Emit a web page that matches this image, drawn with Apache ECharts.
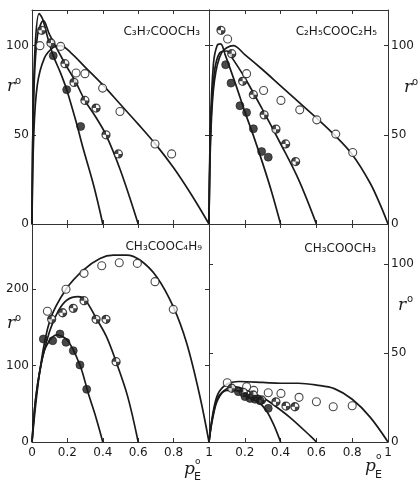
<!DOCTYPE html>
<html><head><meta charset="utf-8">
<script src="https://cdn.jsdelivr.net/npm/echarts@6/dist/echarts.min.js"></script>
<style>html,body{margin:0;padding:0;background:#fff}#c{width:420px;height:483px}</style>
</head><body><div id="c"></div>
<script>
// ---------- Data (p°E, r°) ----------
// Top-left: C3H7COOCH3
const tlOpen   = [[0.045,100],[0.162,99.6],[0.249,84.7],[0.299,84.3],[0.399,76.2],[0.497,63.1],[0.695,44.9],[0.789,39.3]];
const tlHalf   = [[0.055,108.6],[0.107,101.5],[0.186,89.9],[0.237,79.4],[0.299,69.3],[0.362,65],[0.418,50],[0.488,39.3]];
const tlFilled = [[0.12,94.4],[0.196,75.3],[0.275,54.7]];
const tlCurve04 = [[0,0],[0.006,60],[0.018,100],[0.04,118],[0.06,115],[0.09,104],[0.12,94.4],[0.16,85],[0.196,75.3],[0.25,57],[0.29,42],[0.35,21],[0.4,0]];
const tlCurve06 = [[0,0],[0.008,65],[0.03,105],[0.065,114],[0.1,106],[0.186,90],[0.25,79],[0.3,69],[0.36,60],[0.418,50],[0.5,30],[0.6,0]];
const tlCurve10 = [[0,0],[0.01,50],[0.03,78],[0.07,93],[0.12,99],[0.16,100],[0.22,96],[0.3,88],[0.4,78],[0.5,67],[0.6,56],[0.7,44.5],[0.8,31.5],[0.9,16.5],[1,0]];
// Top-right: C2H5COOC2H5
const trOpen   = [[0.104,103.7],[0.21,84.3],[0.305,74.9],[0.402,69.3],[0.507,64],[0.602,58.4],[0.708,50.4],[0.803,40.1]];
const trHalf   = [[0.067,108.6],[0.127,95.5],[0.188,80],[0.248,72.5],[0.308,61.2],[0.374,53.2],[0.428,44.9],[0.484,35]];
const trFilled = [[0.093,89.3],[0.123,79],[0.173,66.3],[0.21,62.5],[0.248,53.4],[0.294,40.6],[0.331,37.5]];
const trCurve04 = [[0,0],[0.008,55],[0.025,90],[0.045,100],[0.065,101],[0.09,95],[0.15,78],[0.2,63],[0.25,49],[0.3,34],[0.35,18],[0.4,0]];
const trCurve06 = [[0,0],[0.01,55],[0.03,85],[0.06,96],[0.1,97],[0.13,93],[0.2,82],[0.3,64],[0.4,45],[0.5,25],[0.6,0]];
const trCurve10 = [[0,0],[0.01,50],[0.03,80],[0.07,96],[0.136,100],[0.2,95],[0.3,86.5],[0.4,77.5],[0.5,68.5],[0.6,59.5],[0.7,50],[0.8,39],[0.9,23],[0.96,10],[1,0]];
// Bottom-left: CH3COOC4H9
const blOpen   = [[0.087,171],[0.192,199.6],[0.294,220.5],[0.394,230.5],[0.493,234.4],[0.595,233.5],[0.695,209.6],[0.798,173.4]];
const blHalf   = [[0.111,160.4],[0.173,169],[0.233,174.7],[0.294,184.7],[0.362,160.4],[0.418,160.4],[0.475,105]];
const blFilled = [[0.064,134.6],[0.117,132.4],[0.158,141.2],[0.192,130.3],[0.233,119.4],[0.271,100.7],[0.309,68.9]];
const blCurve04 = [[0,0],[0.02,55],[0.05,100],[0.08,125],[0.14,140],[0.2,133],[0.27,101],[0.32,62],[0.36,33],[0.4,0]];
const blCurve06 = [[0,0],[0.02,55],[0.05,100],[0.1,145],[0.15,172],[0.2,186],[0.26,190],[0.3,186],[0.362,162],[0.42,138],[0.475,105],[0.54,60],[0.6,0]];
const blCurve10 = [[0,0],[0.045,94],[0.102,159.5],[0.196,200.9],[0.29,224.8],[0.384,240],[0.46,244.4],[0.535,244.4],[0.61,237.9],[0.704,216.1],[0.798,176.9],[0.874,129],[0.949,59.2],[1,0]];
// Bottom-right: CH3COOCH3
const brOpen   = [[0.102,33.3],[0.21,31.1],[0.25,29],[0.331,27.7],[0.402,27.3],[0.503,25.1],[0.6,22.6],[0.694,19.8],[0.8,20.4]];
const brHalf   = [[0.127,30.2],[0.192,27.9],[0.248,26.4],[0.294,23.6],[0.374,22.6],[0.43,20.2],[0.48,19.8]];
const brFilled = [[0.164,28.3],[0.201,25.5],[0.229,24.5],[0.257,24],[0.285,23.2],[0.331,18.9]];
const brCurve04 = [[0,0],[0.02,13],[0.05,24],[0.1,29],[0.15,29],[0.2,26],[0.272,22.6],[0.318,18],[0.36,10],[0.4,0]];
const brCurve06 = [[0,0],[0.02,14],[0.05,25],[0.1,30],[0.15,31],[0.2,29.5],[0.3,25],[0.337,22.6],[0.45,14],[0.57,3],[0.6,0]];
const brCurve10 = [[0,0],[0.02,15],[0.05,27],[0.1,32.5],[0.17,34],[0.3,33.5],[0.4,33],[0.5,33],[0.6,32],[0.7,30],[0.8,24],[0.9,14],[1,0]];

const xTickLabels = ['0','0.2','0.4','0.6','0.8','1'];
const yMaxes = [120, 120, 285, 122.5];
const yIntervals = [50, 50, 100, 50];
const formulas = ['C₃H₇COOCH₃','C₂H₅COOC₂H₅','CH₃COOC₄H₉','CH₃COOCH₃'];

// ---------- Layout ----------
const grids = [
  {left:32, top:10, width:177, height:214},
  {left:209, top:10, width:179, height:214},
  {left:32, top:224, width:177, height:218},
  {left:209, top:224, width:179, height:218}
];
const INK = '#1a1a1a';
const FONT = 'DejaVu Sans';
const lineCol = '#333';

function xAx(g, pos, showLabels, hideMin){
  return {type:'value', gridIndex:g, position:pos, min:0, max:1, interval:0.2,
    axisLine:{show:true, onZero:false, lineStyle:{color:lineCol, width:1}},
    axisTick:{show:true, inside:true, length:4, lineStyle:{color:lineCol}},
    splitLine:{show:false},
    axisLabel:{show:showLabels, margin:5, color:INK, fontFamily:FONT, fontSize:12,
      showMinLabel: !hideMin, formatter:v=>xTickLabels[Math.round(v*5)]}
  };
}
function yAx(g, pos, showLabels){
  return {type:'value', gridIndex:g, position:pos, min:0, max:yMaxes[g], interval:yIntervals[g],
    axisLine:{show:true, onZero:false, lineStyle:{color:lineCol, width:1}},
    axisTick:{show:true, inside:true, length:4, lineStyle:{color:lineCol}},
    splitLine:{show:false},
    axisLabel:{show:showLabels, margin:3, color:INK, fontFamily:FONT, fontSize:12, showMaxLabel:false}
  };
}
const xAxis = [
  xAx(0,'bottom',false), xAx(0,'top',false),
  xAx(1,'bottom',false), xAx(1,'top',false),
  xAx(2,'bottom',true), xAx(2,'top',false),
  xAx(3,'bottom',true,true), xAx(3,'top',false)
];
const yAxis = [
  yAx(0,'left',true), yAx(0,'right',false),
  yAx(1,'left',false), yAx(1,'right',true),
  yAx(2,'left',true), yAx(2,'right',false),
  yAx(3,'left',false), yAx(3,'right',true)
];

// two opposite dark quadrants drawn over an open circle
const quadrantPath = 'path://M10 10 L10 0 A10 10 0 0 0 0 10 Z M10 10 L10 20 A10 10 0 0 0 20 10 Z';
const MS = 8;

const panels = [
  {curves:[tlCurve04,tlCurve06,tlCurve10], open:tlOpen, half:tlHalf, filled:tlFilled},
  {curves:[trCurve04,trCurve06,trCurve10], open:trOpen, half:trHalf, filled:trFilled},
  {curves:[blCurve04,blCurve06,blCurve10], open:blOpen, half:blHalf, filled:blFilled},
  {curves:[brCurve04,brCurve06,brCurve10], open:brOpen, half:brHalf, filled:brFilled}
];
const series = [];
panels.forEach((p,g)=>{
  p.curves.forEach(c=>series.push({type:'line', xAxisIndex:2*g, yAxisIndex:2*g, data:c, smooth:0.35,
    showSymbol:false, symbol:'none', silent:true, lineStyle:{color:INK, width:1.7}, z:2}));
  series.push({type:'scatter', xAxisIndex:2*g, yAxisIndex:2*g, data:p.open, symbol:'circle', symbolSize:MS,
    itemStyle:{color:'#fff', borderColor:INK, borderWidth:1.1}, z:3});
  series.push({type:'scatter', xAxisIndex:2*g, yAxisIndex:2*g, data:p.half, symbol:'circle', symbolSize:MS,
    itemStyle:{color:'#fff', borderColor:INK, borderWidth:1.3}, z:3});
  series.push({type:'scatter', xAxisIndex:2*g, yAxisIndex:2*g, data:p.half, symbol:quadrantPath, symbolSize:MS,
    itemStyle:{color:INK, borderWidth:0}, z:4});
  series.push({type:'scatter', xAxisIndex:2*g, yAxisIndex:2*g, data:p.filled, symbol:'circle', symbolSize:MS,
    itemStyle:{color:INK, borderColor:INK, borderWidth:0.8}, z:3});
});

function txt(x, y, s, font, extra){
  return {type:'text', x:x, y:y, style:Object.assign({text:s, font:font, fill:INK, textVerticalAlign:'middle'}, extra||{}), z:10};
}
const formFont = '12px "DejaVu Sans"';
const graphic = [
  txt(200, 32, formulas[0], formFont, {textAlign:'right'}),
  txt(377, 32, formulas[1], formFont, {textAlign:'right'}),
  txt(202, 247, formulas[2], formFont, {textAlign:'right'}),
  txt(376, 249, formulas[3], formFont, {textAlign:'right'}),
  // r° labels
  txt(7, 87, 'r', 'italic 17px "DejaVu Serif"'), txt(15, 81, 'o', '10px "DejaVu Sans"'),
  txt(404, 88, 'r', 'italic 17px "DejaVu Serif"'), txt(412, 82, 'o', '10px "DejaVu Sans"'),
  txt(7, 324, 'r', 'italic 17px "DejaVu Serif"'), txt(15, 318, 'o', '10px "DejaVu Sans"'),
  txt(398, 306, 'r', 'italic 17px "DejaVu Serif"'), txt(407, 299, 'o', '10px "DejaVu Sans"'),
  // p°E labels
  txt(184, 470, 'p', 'italic 17px "DejaVu Serif"'), txt(195, 462, 'o', '9px "DejaVu Sans"'), txt(194, 477, 'E', '11px "DejaVu Sans"'),
  txt(365, 467, 'p', 'italic 17px "DejaVu Serif"'), txt(376, 457, 'o', '9px "DejaVu Sans"'), txt(375, 475, 'E', '11px "DejaVu Sans"')
];

const chart = echarts.init(document.getElementById('c'), null, {renderer:'canvas'});
chart.setOption({
  backgroundColor:'#fff',
  animation:false,
  grid: grids.map(g=>Object.assign({containLabel:false, outerBoundsMode:'none'}, g)),
  xAxis, yAxis, series, graphic
});
</script></body></html>
